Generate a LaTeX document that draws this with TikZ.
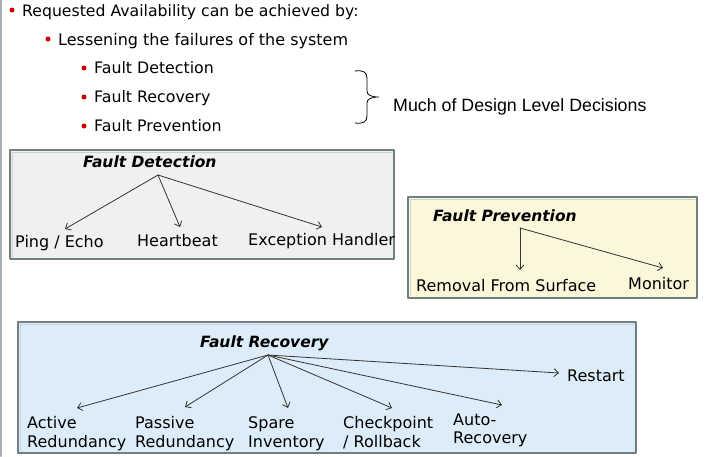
\documentclass[tikz,border=0pt]{standalone}
\usepackage{fontspec}
\setmainfont{DejaVu Sans}
\newfontfamily\arialfont{Liberation Sans}
\usetikzlibrary{arrows.meta}
\definecolor{bulletred}{HTML}{CC0000}
\definecolor{framegray}{HTML}{A7AFB5}
\definecolor{detfill}{HTML}{F0F0F0}
\definecolor{prevfill}{HTML}{FCF6DA}
\definecolor{recfill}{HTML}{DDECF9}
\definecolor{boxedge}{HTML}{6F8080}
\definecolor{boxlight}{HTML}{C9D2D2}
\definecolor{arrowgray}{HTML}{333333}
\begin{document}
\begin{tikzpicture}[x=1pt,y=-1pt,line cap=round,line join=round,>={Straight Barb[length=4.5pt,width=8pt]},
	bul/.style={circle,fill=bulletred,inner sep=0pt,minimum size=5pt},
	item/.style={anchor=base west,inner sep=0pt,font=\fontsize{15.7}{18}\selectfont},
	subitem/.style={anchor=base west,inner sep=0pt,font=\fontsize{15.8}{18}\selectfont},
	panel/.style={draw=boxedge,line width=1.6pt},
	title/.style={anchor=base west,inner sep=0pt,font=\fontsize{15.5}{18}\selectfont\bfseries\itshape},
	leaf/.style={anchor=base west,inner sep=0pt,align=left,font=\fontsize{16}{19}\selectfont},
	link/.style={->,draw=arrowgray,line width=0.8pt}]
	\useasboundingbox (0,0) rectangle (712,456);
	\draw[framegray,line width=2pt] (1,0) -- (1,456);
	% bullet list
	\node[bul] (b1) at (12,10) {};
	\node[item] (req) at (22,16) {Requested Availability can be achieved by:};
	\node[bul] (b2) at (48,39) {};
	\node[item,font=\fontsize{16}{18}\selectfont] (less) at (58,45) {Lessening the failures of the system};
	\node[bul] (b3) at (84,68) {};
	\node[subitem] (fd) at (94,73) {Fault Detection};
	\node[bul] (b4) at (84,97) {};
	\node[subitem] (fr) at (94,102) {Fault Recovery};
	\node[bul] (b5) at (84,126) {};
	\node[subitem] (fp) at (94,131) {Fault Prevention};
	\coordinate (brtop) at (355,71);
	\coordinate (brtip) at (379,97);
	\coordinate (brbot) at (355,123);
	\draw[line width=0.8pt] (brtop) .. controls (363,70) and (367,72) .. (367,78) -- (367,91)
		.. controls (367,95) and (371,97) .. (brtip) .. controls (371,97) and (367,99) .. (367,103)
		-- (367,116) .. controls (367,122) and (363,124) .. (brbot);
	\node[anchor=base west,inner sep=0pt,font=\arialfont\fontsize{17.8}{20}\selectfont] (much) at (393,111) {Much of Design Level Decisions};
	% panels
	\draw[panel,fill=detfill] (10,150) rectangle (394,259);
	\draw[boxlight,line width=0.8pt] (12,257) -- (12,152) -- (392,152);
	\draw[panel,fill=prevfill] (408,197) rectangle (697,298);
	\draw[boxlight,line width=0.8pt] (410,296) -- (410,199) -- (695,199);
	\draw[panel,fill=recfill] (18,322) rectangle (636,453);
	\draw[boxlight,line width=0.8pt] (20,451) -- (20,324) -- (634,324);
	% fault detection
	\node[title] (dettitle) at (83,167) {Fault Detection};
	\coordinate (detroot) at (158,175);
	\node[leaf] (ping) at (15,247) {Ping / Echo};
	\node[leaf] (heart) at (137,246) {Heartbeat};
	\node[leaf] (exc) at (248,245) {Exception Handler};
	\coordinate (ping-in) at (65,229);
	\coordinate (heart-in) at (180,227);
	\coordinate (exc-in) at (322,227);
	\foreach \t in {ping,heart,exc}
		\draw[link] (detroot) -- (\t-in);
	% fault prevention
	\node[title] (prevtitle) at (433,221) {Fault Prevention};
	\coordinate (prevroot) at (520,228);
	\node[leaf] (removal) at (416,291) {Removal From Surface};
	\node[leaf] (monitor) at (628,289) {Monitor};
	\coordinate (removal-in) at (520,270);
	\coordinate (monitor-in) at (663,268);
	\foreach \t in {removal,monitor}
		\draw[link] (prevroot) -- (\t-in);
	% fault recovery
	\node[title] (rectitle) at (200,347) {Fault Recovery};
	\coordinate (recroot) at (268,355);
	\node[leaf] (active) at (27,447) {Active\\Redundancy};
	\node[leaf] (passive) at (135,447) {Passive\\Redundancy};
	\node[leaf] (spare) at (248,447) {Spare\\Inventory};
	\node[leaf] (check) at (343,447) {Checkpoint\\/ Rollback};
	\node[leaf,font=\fontsize{16}{18}\selectfont] (auto) at (453,443) {Auto-\\Recovery};
	\node[leaf] (restart) at (567,381) {Restart};
	\coordinate (active-in) at (77,408);
	\coordinate (passive-in) at (185,407);
	\coordinate (spare-in) at (288,408);
	\coordinate (check-in) at (392,408);
	\coordinate (auto-in) at (502,405);
	\coordinate (restart-in) at (559,373);
	\foreach \t in {active,passive,spare,check,auto,restart}
		\draw[link] (recroot) -- (\t-in);
\end{tikzpicture}
\end{document}
